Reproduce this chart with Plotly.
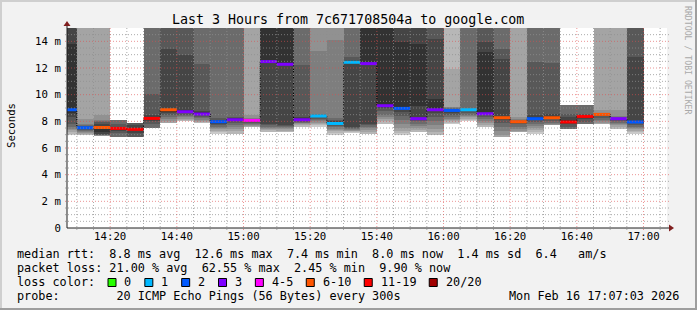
import plotly.graph_objects as go
from datetime import datetime, timedelta

# ---------------- data ----------------
step_starts = ["14:05", "14:10", "14:15", "14:20", "14:25", "14:30", "14:35", "14:40", "14:45", "14:50",
               "14:55", "15:00", "15:05", "15:10", "15:15", "15:20", "15:25", "15:30", "15:35", "15:40",
               "15:45", "15:50", "15:55", "16:00", "16:05", "16:10", "16:15", "16:20", "16:25", "16:30",
               "16:35", "16:40", "16:45", "16:50", "16:55"]

median_ms = [8.87, 7.52, 7.54, 7.47, 7.40, 8.22, 8.87, 8.72, 8.55, 7.97,
             8.12, 8.07, 12.48, 12.28, 8.12, 8.40, 7.84, 12.43, 12.33, 9.17,
             8.97, 8.20, 8.87, 8.82, 8.87, 8.57, 8.27, 7.97, 8.20, 8.27,
             7.95, 8.37, 8.52, 8.20, 7.95]

lost_pings = [2, 2, 6, 12, 13, 11, 6, 3, 3, 2,
              3, 4, 3, 3, 3, 1, 1, 1, 3, 3,
              2, 3, 3, 2, 1, 3, 6, 6, 2, 6,
              12, 12, 6, 3, 2]

N = None
# 20 sorted ping slots per step (ms); None = lost ping
pings_ms = [
    [N, 6.95, 7.07, 7.2, 7.35, 7.44, 7.6, 7.82, 8.3, 8.6, 13.78, 16, 17, 18, 19, 20, 21, 22, 23, N],
    [N, 6.95, 7.0, 7.08, 7.15, 7.22, 7.3, 7.36, 7.42, 7.48, 7.52, 7.58, 7.65, 7.72, 7.82, 8.2, 16, 17, 18, N],
    [N, N, N, 6.9, 6.92, 6.95, 6.98, 7.0, 7.05, 7.2, 7.54, 7.8, 7.95, 8.05, 8.12, 8.47, 16, N, N, N],
    [N, N, N, N, N, N, 6.85, 7.1, 7.3, 7.42, 7.47, 7.6, 7.8, 8.12, N, N, N, N, N, N],
    [N, N, N, N, N, N, 6.7, 6.8, 7.1, 7.38, 7.5, 7.7, 7.9, N, N, N, N, N, N, N],
    [N, N, N, N, N, 7.45, 7.5, 7.8, 8.0, 8.22, 8.3, 8.47, 10.07, 16, N, N, N, N, N, N],
    [N, N, N, 7.85, 8.0, 8.2, 8.35, 8.5, 8.6, 8.75, 8.87, 13.4, 16, 17, 18, 19, 20, N, N, N],
    [N, 7.9, 8.0, 8.1, 8.2, 8.3, 8.4, 8.5, 8.6, 8.72, 8.8, 12.96, 16, 17, 18, 19, 20, 21, N, N],
    [N, 7.87, 7.9, 7.98, 8.05, 8.12, 8.25, 8.35, 8.45, 8.55, 8.65, 8.75, 12.28, 16, 17, 18, 19, 20, N, N],
    [N, 7.07, 7.2, 7.3, 7.4, 7.5, 7.6, 7.7, 7.8, 7.9, 7.97, 8.1, 8.25, 16, 17, 18, 19, 20, 21, N],
    [N, 7.0, 7.02, 7.25, 7.4, 7.55, 7.7, 7.85, 8.0, 8.12, 8.18, 8.25, 8.35, 16, 17, 18, 19, 20, N, N],
    [N, N, 7.55, 7.6, 7.68, 7.75, 7.82, 7.9, 7.95, 8.0, 8.07, 8.1, 8.14, 8.18, 8.25, 8.45, 16, 17, N, N],
    [N, 7.15, 7.2, 7.35, 7.42, 7.5, 7.6, 7.7, 7.82, 12.48, 16, 17, 18, 19, 20, 21, 22, 23, N, N],
    [N, 7.15, 7.2, 7.3, 7.4, 7.5, 7.6, 7.65, 7.72, 12.28, 16, 17, 18, 19, 20, 21, 22, 23, N, N],
    [N, 7.55, 7.6, 7.75, 7.8, 7.85, 7.9, 7.95, 8.0, 8.12, 8.2, 8.35, 12.2, 16, 17, 18, 19, 20, N, N],
    [7.44, 7.55, 7.7, 7.8, 7.9, 8.0, 8.1, 8.2, 8.3, 8.4, 8.43, 8.47, 8.5, 8.55, 13.28, 16, 17, 18, 19, N],
    [6.95, 7.0, 7.1, 7.25, 7.35, 7.45, 7.57, 7.65, 7.75, 7.84, 7.9, 8.0, 8.1, 8.25, 14.1, 16, 17, 18, 19, N],
    [7.1, 7.15, 7.2, 7.25, 7.3, 7.35, 7.42, 7.5, 7.57, 12.43, 12.5, 12.6, 12.83, 16, 17, 18, 19, 20, 21, N],
    [N, 7.05, 7.07, 7.2, 7.35, 7.5, 7.6, 7.7, 7.82, 12.33, 16, 17, 18, 19, 20, 21, 22, 23, N, N],
    [N, 7.57, 7.8, 8.0, 8.2, 8.3, 8.5, 8.77, 9.0, 9.17, 16, 17, 18, 19, 20, 21, 22, 23, N, N],
    [N, 6.95, 7.1, 7.3, 7.5, 7.8, 8.1, 8.4, 8.7, 8.9, 13.96, 16, 17, 18, 19, 20, 21, 22, 23, N],
    [N, 7.07, 7.2, 7.35, 7.5, 7.65, 7.8, 8.0, 8.15, 9.12, 13.83, 16, 17, 18, 19, 20, 21, 22, N, N],
    [N, 6.85, 7.0, 7.2, 7.45, 7.7, 8.0, 8.3, 8.6, 8.87, 9.7, 14.2, 16, 17, 18, 19, 20, 21, N, N],
    [N, 7.82, 7.9, 8.0, 8.1, 8.2, 8.3, 8.45, 8.6, 8.8, 8.85, 8.9, 8.95, 9.0, 9.05, 9.07, 11.96, 16, 17, N],
    [7.9, 8.0, 8.1, 8.2, 8.3, 8.4, 8.5, 8.6, 8.75, 8.87, 8.9, 8.93, 8.95, 16, 17, 18, 19, 20, 21, N],
    [N, 7.44, 7.55, 7.7, 7.85, 8.0, 8.15, 8.3, 8.45, 8.6, 13.2, 13.96, 16, 17, 18, 19, 20, 21, N, N],
    [N, N, N, 6.82, 7.0, 7.3, 7.6, 7.9, 8.1, 8.25, 8.3, 12.7, 13.46, 16, 17, 18, 19, N, N, N],
    [N, N, N, 7.2, 7.3, 7.45, 7.6, 7.8, 7.9, 7.96, 7.98, 8.0, 8.05, 8.1, 8.15, 8.3, 16, N, N, N],
    [N, 7.07, 7.2, 7.35, 7.5, 7.65, 7.8, 7.95, 8.1, 8.2, 8.3, 8.47, 12.45, 16, 17, 18, 19, 20, 21, N],
    [N, N, N, 7.7, 7.75, 7.8, 7.9, 8.0, 8.15, 8.27, 8.35, 8.52, 12.38, 16, 17, 18, 19, N, N, N],
    [N, N, N, N, N, N, 7.44, 7.6, 7.8, 7.95, 8.05, 8.3, 8.57, 9.2, N, N, N, N, N, N],
    [N, N, N, N, N, N, 7.82, 7.95, 8.15, 8.3, 8.4, 8.5, 8.57, 9.2, N, N, N, N, N, N],
    [N, N, N, 7.82, 7.9, 8.0, 8.1, 8.25, 8.4, 8.5, 8.53, 8.55, 8.56, 8.58, 8.6, 8.87, 16, N, N, N],
    [N, 7.3, 7.4, 7.55, 7.7, 7.8, 7.9, 8.0, 8.1, 8.2, 8.22, 8.25, 8.28, 8.32, 8.37, 8.82, 16, 17, N, N],
    [N, 7.07, 7.2, 7.3, 7.4, 7.5, 7.6, 7.75, 7.85, 7.95, 8.0, 12.83, 16, 17, 18, 19, 20, 21, 22, N],
]

loss_labels = ["0", "1", "2", "3", "4-5", "6-10", "11-19", "20/20"]
loss_upper = [0, 1, 2, 3, 5, 10, 19, 20]
loss_colors = ["#26ff00", "#00b8ff", "#0059ff", "#7e00ff", "#ff00ff", "#ff5500", "#ff0000", "#a10000"]

y_tick_vals = [0, 2, 4, 6, 8, 10, 12, 14]
y_tick_text = ["0", "2 m", "4 m", "6 m", "8 m", "10 m", "12 m", "14 m"]

title_text = "Last 3 Hours from 7c671708504a to google.com"
stat_lines = [
    "median rtt:  8.8 ms avg  12.6 ms max  7.4 ms min  8.0 ms now  1.4 ms sd  6.4   am/s",
    "packet loss: 21.00 % avg  62.55 % max  2.45 % min  9.90 % now",
]
probe_text = "probe:        20 ICMP Echo Pings (56 Bytes) every 300s"
stamp_text = "Mon Feb 16 17:07:03 2026"

DAY = "2026-02-16"
END = datetime(2026, 2, 16, 17, 7, 3)
START = END - timedelta(hours=3)
STEP = timedelta(seconds=300)
YMAX = 15.0

# ---------------- geometry ----------------
W, H = 697, 310
PL, PR, PT, PB = 67, 667, 28, 228
FONT = "DejaVu Sans Mono"


def fx(px):
    return (px - PL) / (PR - PL)


def fy(py):
    return (PB - py) / (PB - PT)


t_start = [datetime.strptime(DAY + " " + s, "%Y-%m-%d %H:%M") for s in step_starts]
t_mid = [t + STEP / 2 for t in t_start]

fig = go.Figure()

# smoke (smokeping style)
npings = 20
half = npings / 2
for ibot in range(1, int(half) + 1):
    itop = npings + 1 - ibot
    shade = int(190 / half * (half - ibot)) + 50
    xs, base, hts = [], [], []
    for k, p in enumerate(pings_ms):
        lo, hi = p[ibot - 1], p[itop - 1]
        if lo is None or hi is None:
            continue
        lo_c, hi_c = min(lo, YMAX), min(hi, YMAX)
        xs.append(t_mid[k])
        base.append(lo_c)
        hts.append(hi_c - lo_c)
    fig.add_trace(go.Bar(x=xs, y=hts, base=base, width=[STEP.total_seconds() * 1000] * len(xs),
                         marker=dict(color=f"rgb({shade},{shade},{shade})", line=dict(width=0)),
                         hoverinfo="skip", showlegend=False))

# median step line (black dotted)
fig.add_trace(go.Scatter(x=t_start + [t_start[-1] + STEP], y=median_ms + [median_ms[-1]],
                         mode="lines", line=dict(color="#000000", width=1, dash="1px,1px", shape="hv"),
                         hoverinfo="skip", showlegend=False))


def bucket(l):
    for i, u in enumerate(loss_upper):
        if l <= u:
            return i
    return len(loss_upper) - 1


for b, col in enumerate(loss_colors):
    xs, ys = [], []
    for k in range(len(median_ms)):
        if bucket(lost_pings[k]) == b:
            xs += [t_start[k], t_start[k] + STEP, None]
            ys += [median_ms[k], median_ms[k], None]
    if xs:
        fig.add_trace(go.Scatter(x=xs, y=ys, mode="lines", line=dict(color=col, width=3),
                                 hoverinfo="skip", showlegend=False))

shapes = []
# grid on top of smoke
grid_minor = "rgba(143,143,143,0.75)"
grid_major = "rgba(222,79,79,0.6)"
yv = 0.5
while yv < YMAX:
    major = abs(yv / 2 - round(yv / 2)) < 1e-9
    shapes.append(dict(type="line", xref="paper", yref="y", x0=fx(PL - 2), x1=fx(PR + 2), y0=yv, y1=yv,
                       line=dict(color=grid_major if major else grid_minor, width=1, dash="1px,2px"),
                       layer="above"))
    yv += 0.5
gt = datetime(2026, 2, 16, 14, 10)
while gt < END:
    major = gt.minute % 20 == 0
    shapes.append(dict(type="line", xref="x", yref="paper", x0=gt, x1=gt, y0=fy(PB + 2), y1=1,
                       line=dict(color=grid_major if major else grid_minor, width=1, dash="1px,2px"),
                       layer="above"))
    gt += STEP

# axis lines + arrows
axis_col = "#1f1f1f"
arrow_col = "#801f1f"
shapes.append(dict(type="line", xref="paper", yref="paper", x0=0, x1=fx(PR + 4), y0=0, y1=0,
                   line=dict(color=axis_col, width=1), layer="above"))
shapes.append(dict(type="line", xref="paper", yref="paper", x0=0, x1=0, y0=0, y1=fy(PT - 4),
                   line=dict(color=axis_col, width=1), layer="above"))
shapes.append(dict(type="path", xref="paper", yref="paper",
                   path=f"M {fx(PL-3.5)} {fy(PT-2)} L {fx(PL+3.5)} {fy(PT-2)} L {fx(PL)} {fy(PT-7)} Z",
                   fillcolor=arrow_col, line=dict(width=0), layer="above"))
shapes.append(dict(type="path", xref="paper", yref="paper",
                   path=f"M {fx(PR+2)} {fy(PB-3.5)} L {fx(PR+2)} {fy(PB+3.5)} L {fx(PR+7)} {fy(PB)} Z",
                   fillcolor=arrow_col, line=dict(width=0), layer="above"))

# 3D frame
shapes += [
    dict(type="rect", xref="paper", yref="paper", x0=fx(0), x1=fx(W), y0=fy(0), y1=fy(2),
         fillcolor="#cfcfcf", line=dict(width=0), layer="above"),
    dict(type="rect", xref="paper", yref="paper", x0=fx(0), x1=fx(2), y0=fy(0), y1=fy(H),
         fillcolor="#cfcfcf", line=dict(width=0), layer="above"),
    dict(type="rect", xref="paper", yref="paper", x0=fx(0), x1=fx(W), y0=fy(H - 2), y1=fy(H),
         fillcolor="#9e9e9e", line=dict(width=0), layer="above"),
    dict(type="rect", xref="paper", yref="paper", x0=fx(W - 2), x1=fx(W), y0=fy(0), y1=fy(H),
         fillcolor="#9e9e9e", line=dict(width=0), layer="above"),
]

annotations = []


def txt(s, px, py, size=11.8, xanchor="left", color="#000000", angle=0):
    annotations.append(dict(text=s.replace(" ", "\u00a0"), xref="paper", yref="paper", x=fx(px), y=fy(py),
                            xanchor=xanchor, yanchor="middle", showarrow=False, textangle=angle,
                            font=dict(family=FONT, size=size, color=color)))


txt(title_text, 347.5, 19, size=13.3, xanchor="center")
txt("Seconds", 11, 126, size=10.7, xanchor="center", angle=-90)
txt("RRDTOOL / TOBI OETIKER", 688, 60, size=8.2, xanchor="center", color="#a9a9a9", angle=90)
txt(stat_lines[0], 15, 254)
txt(stat_lines[1], 15, 268)
txt("loss color:", 15, 282)
txt(probe_text, 15, 296)
txt(stamp_text, 681, 296, xanchor="right")

# loss color legend boxes
lx = 108.0
for lab, col in zip(loss_labels, loss_colors):
    shapes.append(dict(type="rect", xref="paper", yref="paper", x0=fx(lx), x1=fx(lx + 8), y0=fy(278.5), y1=fy(286.5),
                       fillcolor=col, line=dict(color="#000000", width=1), layer="above"))
    txt(lab, lx + 14.3, 282)
    lx = lx + 14.3 + len(lab) * 7.04 + 15.5

fig.update_layout(
    width=W, height=H,
    margin=dict(l=PL, r=W - PR, t=PT, b=H - PB, pad=0),
    paper_bgcolor="#f2f2f2", plot_bgcolor="#ffffff",
    barmode="overlay", bargap=0,
    showlegend=False,
    shapes=shapes, annotations=annotations,
    font=dict(family=FONT, size=10.7, color="#000000"),
    xaxis=dict(type="date", range=[START, END], showgrid=False, zeroline=False,
               tick0=datetime(2026, 2, 16, 14, 0), dtick=20 * 60 * 1000, tickformat="%H:%M",
               ticks="", showline=False,
               tickfont=dict(family=FONT, size=10.7)),
    yaxis=dict(range=[0, YMAX], showgrid=False, zeroline=False, tickvals=y_tick_vals, ticktext=y_tick_text,
               ticks="outside", ticklen=3, tickcolor="rgba(0,0,0,0)", showline=False,
               tickfont=dict(family=FONT, size=10.7)),
)

fig.write_html("out.html")
